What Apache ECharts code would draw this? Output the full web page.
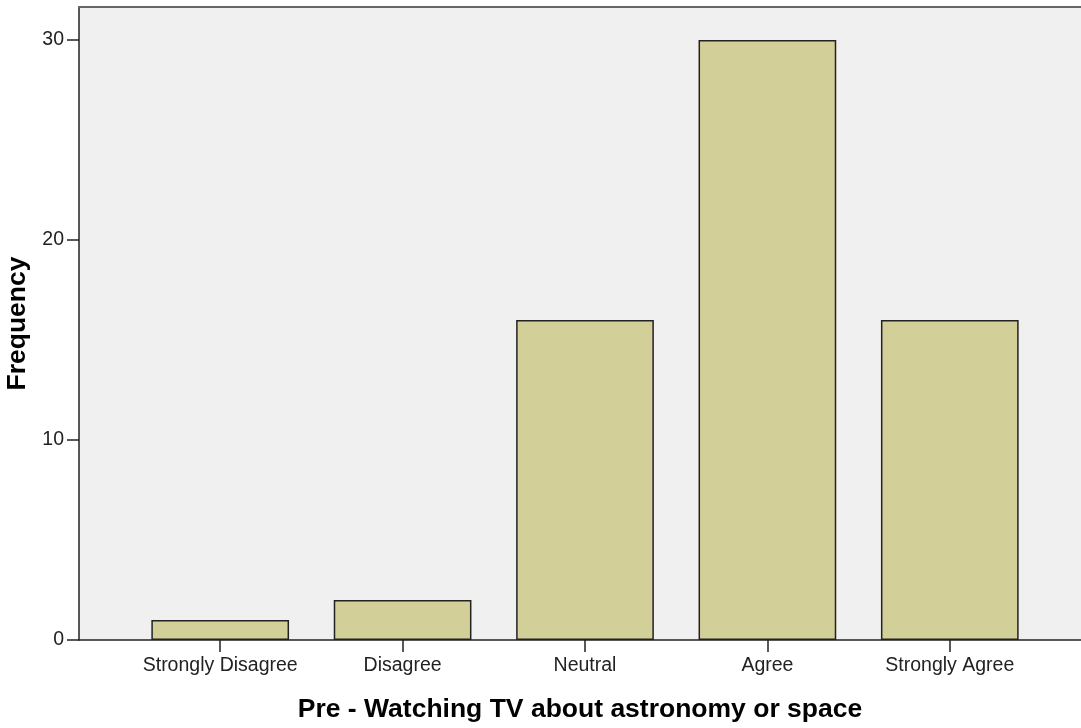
<!DOCTYPE html>
<html>
<head>
<meta charset="utf-8">
<script src="https://cdn.jsdelivr.net/npm/echarts@6/dist/echarts.min.js"></script>
<style>
  html, body { margin: 0; padding: 0; background: #fff; }
  #chart { width: 1081px; height: 728px; }
</style>
</head>
<body>
<div id="chart"></div>
<script>
// 数据
const categories = ['Strongly Disagree', 'Disagree', 'Neutral', 'Agree', 'Strongly Agree'];
const frequencies = [1, 2, 16, 30, 16];
const yTicks = [0, 10, 20, 30];
const xTitle = 'Pre - Watching TV about astronomy or space';
const yTitle = 'Frequency';

const yMax = 31.65;
const font = 'Liberation Sans, Arial, sans-serif';

const chart = echarts.init(document.getElementById('chart'));

const option = {
  animation: false,
  backgroundColor: '#ffffff',
  grid: [
    // 外框 + 背景
    { left: 79, right: 0, top: 7, bottom: 88, outerBoundsMode: 'none', show: true, backgroundColor: '#f0f0f0', borderWidth: 0 },
    // 柱子所在区域
    { left: 129, right: 40, top: 7, bottom: 88, outerBoundsMode: 'none' }
  ],
  xAxis: [
    {
      gridIndex: 0, type: 'value', min: 0, max: 1,
      axisLine: { show: true, lineStyle: { color: '#222', width: 1.5 } },
      axisTick: { show: false }, axisLabel: { show: false }, splitLine: { show: false },
      name: xTitle, nameLocation: 'middle', nameGap: 56,
      nameTextStyle: { fontFamily: font, fontSize: 26.5, fontWeight: 'bold', color: '#000' }
    },
    {
      gridIndex: 0, type: 'value', min: 0, max: 1, position: 'top',
      axisLine: { show: true, lineStyle: { color: '#666', width: 2 } },
      axisTick: { show: false }, axisLabel: { show: false }, splitLine: { show: false }
    },
    {
      gridIndex: 1, type: 'category', data: categories,
      axisLine: { show: false },
      axisTick: { show: true, alignWithLabel: true, length: 12, lineStyle: { color: '#222', width: 1.5 } },
      axisLabel: { interval: 0, fontFamily: font, fontSize: 19.5, color: '#222', margin: 16 }
    }
  ],
  yAxis: [
    {
      gridIndex: 0, type: 'value', min: 0, max: yMax, interval: 10,
      axisLine: { show: true, lineStyle: { color: '#222', width: 1.5 } },
      axisTick: { show: true, length: 12, lineStyle: { color: '#222', width: 1.5 } },
      axisLabel: {
        fontFamily: font, fontSize: 19.5, color: '#222', margin: 15,
        formatter: v => (yTicks.includes(v) ? String(v) : ''),
        showMaxLabel: false
      },
      splitLine: { show: false },
      name: yTitle, nameLocation: 'middle', nameGap: 43, nameRotate: 90,
      nameTextStyle: { fontFamily: font, fontSize: 26.5, fontWeight: 'bold', color: '#000' }
    },
    {
      gridIndex: 1, type: 'value', min: 0, max: yMax, show: false
    }
  ],
  series: [
    {
      type: 'bar',
      xAxisIndex: 2,
      yAxisIndex: 1,
      data: frequencies,
      barWidth: '75.5%',
      itemStyle: { color: '#d3cf98', borderColor: '#222', borderWidth: 1.5 }
    }
  ]
};

chart.setOption(option);
</script>
</body>
</html>
